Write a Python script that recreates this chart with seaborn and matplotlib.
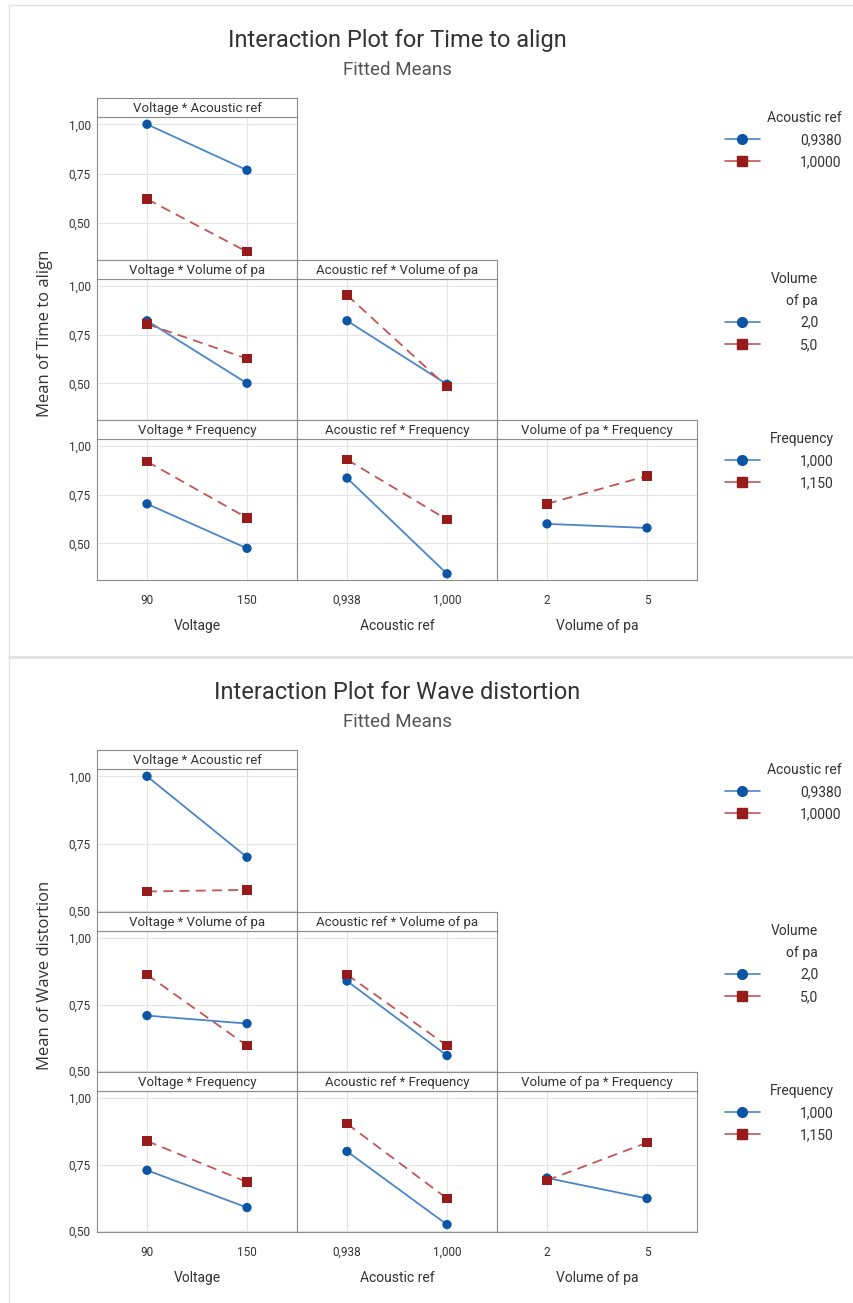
"""
Minitab style interaction plots (fitted means) for Time to align and Wave distortion
"""
import matplotlib

matplotlib.use("Agg")
import matplotlib.pyplot as plt
from matplotlib.lines import Line2D
import pandas as pd
import seaborn as sns

W, H = 854, 1303

# factor levels as shown on the x axes
voltage_levels = ["90", "150"]
acoustic_levels = ["0,938", "1,000"]
volume_levels = ["2", "5"]

# legend labels of the trace factor
acoustic_legend = ["0,9380", "1,0000"]
volume_legend = ["2,0", "5,0"]
frequency_legend = ["1,000", "1,150"]

# fitted means, [first trace level, second trace level] x [low x, high x]
ta_voltage_acoustic = [[1.000, 0.767], [0.620, 0.353]]
ta_voltage_volume = [[0.822, 0.500], [0.805, 0.627]]
ta_acoustic_volume = [[0.822, 0.495], [0.954, 0.483]]
ta_voltage_frequency = [[0.703, 0.474], [0.921, 0.631]]
ta_acoustic_frequency = [[0.836, 0.343], [0.931, 0.622]]
ta_volume_frequency = [[0.600, 0.579], [0.703, 0.847]]

wd_voltage_acoustic = [[1.000, 0.700], [0.573, 0.579]]
wd_voltage_volume = [[0.709, 0.679], [0.863, 0.596]]
wd_acoustic_volume = [[0.839, 0.559], [0.863, 0.596]]
wd_voltage_frequency = [[0.729, 0.589], [0.839, 0.685]]
wd_acoustic_frequency = [[0.800, 0.525], [0.904, 0.623]]
wd_volume_frequency = [[0.700, 0.623], [0.691, 0.833]]

LINE_COLORS = ["#4A86C8", "#C25656"]
MARK_COLORS = ["#0B55A5", "#981B1B"]
SPINE = "#8C8C8C"
NARROW = ["Liberation Sans Narrow", "DejaVu Sans Condensed", "Roboto", "DejaVu Sans"]

sns.set_theme(style="white")
plt.rcParams["font.family"] = NARROW
plt.rcParams["text.color"] = "#333333"


def px_axes(fig, x0, y0, x1, y1):
    return fig.add_axes([x0 / W, 1 - y1 / H, (x1 - x0) / W, (y1 - y0) / H])


def draw_panel(fig, left, top, bottom, title, means, x_levels, trace, ylim,
               show_y, show_x):
    strip_h = 19
    ax = px_axes(fig, left, top + strip_h, left + 200, bottom)
    df = pd.DataFrame({
        "level": [0, 1, 0, 1],
        "mean": means[0] + means[1],
        "trace": [trace[0]] * 2 + [trace[1]] * 2,
    })
    sns.lineplot(data=df, x="level", y="mean", hue="trace", style="trace",
                 palette=dict(zip(trace, LINE_COLORS)),
                 dashes=dict(zip(trace, ["", (5.5, 3.5)])),
                 linewidth=1.3, legend=False, ax=ax)
    sns.scatterplot(data=df, x="level", y="mean", hue="trace", style="trace",
                    palette=dict(zip(trace, MARK_COLORS)),
                    markers=dict(zip(trace, ["o", "s"])),
                    s=45, linewidth=0, legend=False, ax=ax, zorder=3)
    ax.set_xlim(-0.5, 1.5)
    ax.set_ylim(*ylim)
    ax.set_xticks([0, 1])
    ax.set_yticks([0.5, 0.75, 1.0])
    ax.grid(True, color="#E4E4E4", linewidth=0.8)
    ax.set_axisbelow(True)
    ax.set_xlabel("")
    ax.set_ylabel("")
    for s in ax.spines.values():
        s.set_color(SPINE)
        s.set_linewidth(0.8)
    ax.tick_params(axis="y", length=3, color=SPINE, labelsize=8.5,
                   labelcolor="#333333", pad=1.5)
    ax.tick_params(axis="x", length=0, labelsize=8.5, labelcolor="#333333", pad=10)
    if show_y:
        ax.set_yticklabels(["0,50", "0,75", "1,00"])
    else:
        ax.tick_params(axis="y", left=False, labelleft=False)
    if show_x:
        ax.set_xticklabels(x_levels)
    else:
        ax.tick_params(axis="x", labelbottom=False)

    st = px_axes(fig, left, top, left + 200, top + strip_h)
    st.set_xticks([])
    st.set_yticks([])
    st.set_facecolor("white")
    for s in st.spines.values():
        s.set_color(SPINE)
        s.set_linewidth(0.8)
    st.text(0.5, 0.45, title, ha="center", va="center", fontsize=9.5,
            color="#333333", transform=st.transAxes)


def draw_legend(fig, x, y, title, labels):
    handles = [
        Line2D([], [], color=LINE_COLORS[0], lw=1.2, marker="o", markersize=7,
               markerfacecolor=MARK_COLORS[0], markeredgecolor=MARK_COLORS[0]),
        Line2D([], [], color=LINE_COLORS[1], lw=1.2, marker="s", markersize=6.5,
               markerfacecolor=MARK_COLORS[1], markeredgecolor=MARK_COLORS[1]),
    ]
    leg = fig.legend(handles, labels, title=title, loc="upper left",
                     bbox_to_anchor=(x / W, 1 - y / H), frameon=False,
                     alignment="right", borderpad=0, borderaxespad=0,
                     fontsize=10, title_fontsize=10, handlelength=2.5,
                     handletextpad=2.9, labelspacing=0.58)
    leg.get_title().set_multialignment("right")
    leg.get_title().set_linespacing(1.7)
    leg.get_title().set_color("#333333")


def draw_chart(fig, top, name, data, ylim, ylabel_y):
    title_y, sub_y = top, top + 30
    fig.text(397 / W, 1 - title_y / H, f"Interaction Plot for {name}",
             ha="center", va="center", fontsize=17, color="#333333")
    fig.text(397 / W, 1 - sub_y / H, "Fitted Means", ha="center", va="center",
             fontsize=13.5, color="#555555")
    rows = [top + 58, top + 220, top + 380, top + 540]
    cols = [97, 297, 497]
    draw_panel(fig, cols[0], rows[0], rows[1], "Voltage * Acoustic ref",
               data[0], voltage_levels, acoustic_legend, ylim, True, False)
    draw_panel(fig, cols[0], rows[1], rows[2], "Voltage * Volume of pa",
               data[1], voltage_levels, volume_legend, ylim, True, False)
    draw_panel(fig, cols[1], rows[1], rows[2], "Acoustic ref * Volume of pa",
               data[2], acoustic_levels, volume_legend, ylim, False, False)
    draw_panel(fig, cols[0], rows[2], rows[3], "Voltage * Frequency",
               data[3], voltage_levels, frequency_legend, ylim, True, True)
    draw_panel(fig, cols[1], rows[2], rows[3], "Acoustic ref * Frequency",
               data[4], acoustic_levels, frequency_legend, ylim, False, True)
    draw_panel(fig, cols[2], rows[2], rows[3], "Volume of pa * Frequency",
               data[5], volume_levels, frequency_legend, ylim, False, True)

    for cx, label in zip([197, 397, 597], ["Voltage", "Acoustic ref", "Volume of pa"]):
        fig.text(cx / W, 1 - (top + 586) / H, label, ha="center", va="center",
                 fontsize=10, color="#333333")
    fig.text(45 / W, 1 - ylabel_y / H, f"Mean of {name}", rotation=90,
             ha="center", va="center", fontsize=12, color="#333333",
             family=["Open Sans", "DejaVu Sans"])

    draw_legend(fig, 725, top + 71, "Acoustic ref", acoustic_legend)
    draw_legend(fig, 725, top + 232, "Volume\nof pa", volume_legend)
    draw_legend(fig, 725, top + 392, "Frequency", frequency_legend)


fig = plt.figure(figsize=(W / 100, H / 100), dpi=100)
fig.patch.set_facecolor("white")

draw_chart(fig, 40, "Time to align",
           [ta_voltage_acoustic, ta_voltage_volume, ta_acoustic_volume,
            ta_voltage_frequency, ta_acoustic_frequency, ta_volume_frequency],
           (0.311, 1.037), 333)
draw_chart(fig, 692, "Wave distortion",
           [wd_voltage_acoustic, wd_voltage_volume, wd_acoustic_volume,
            wd_voltage_frequency, wd_acoustic_frequency, wd_volume_frequency],
           (0.497, 1.027), 975)

# light frame and separator between the two charts
frame = "#E2E2E2"
fig.add_artist(Line2D([9 / W, 9 / W], [0, 1 - 5 / H], color=frame, lw=1,
                      transform=fig.transFigure))
fig.add_artist(Line2D([9 / W, 1], [1 - 5 / H, 1 - 5 / H], color=frame, lw=1,
                      transform=fig.transFigure))
fig.add_artist(Line2D([9 / W, 1], [1 - 657 / H, 1 - 657 / H], color=frame, lw=2,
                      transform=fig.transFigure))

fig.savefig("out.png", dpi=100)
